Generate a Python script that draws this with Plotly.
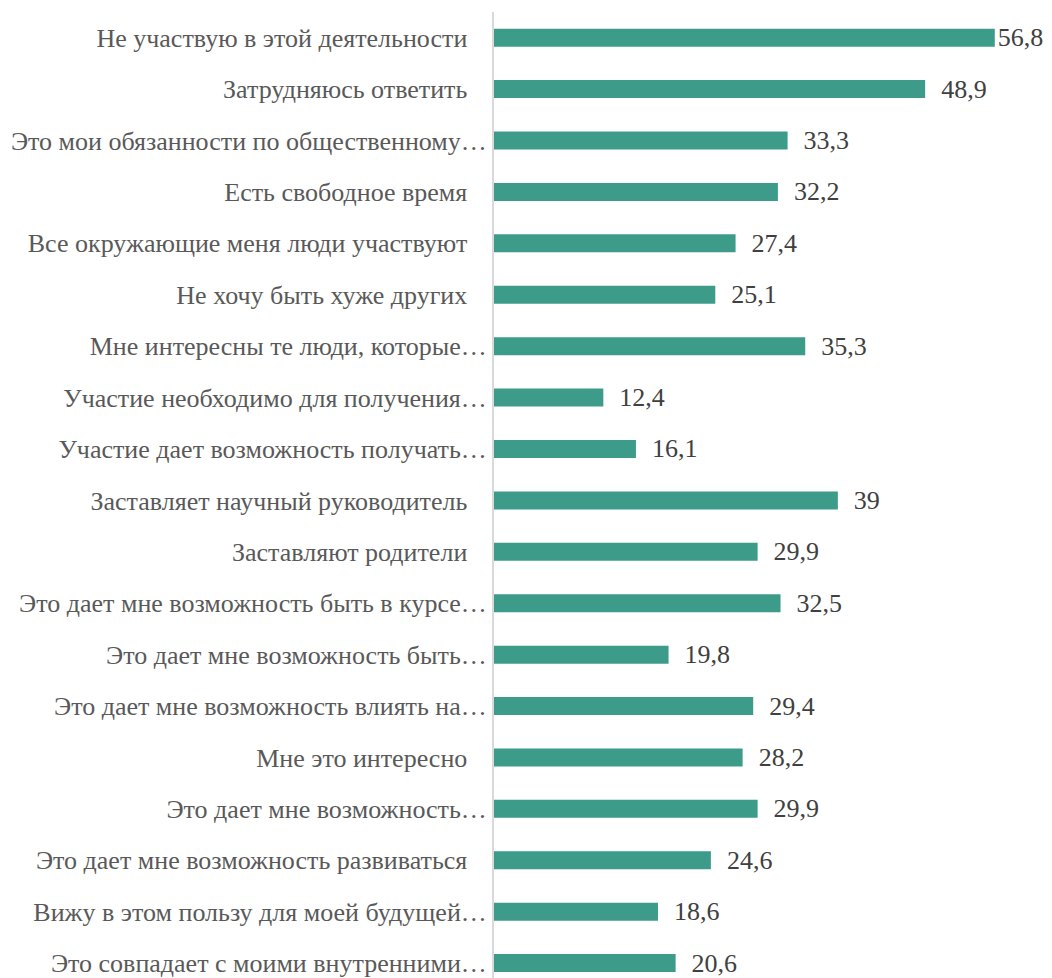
import plotly.graph_objects as go

labels = [
    'Не участвую в этой деятельности',
    'Затрудняюсь ответить',
    'Это мои обязанности по общественному…',
    'Есть свободное время',
    'Все окружающие меня люди участвуют',
    'Не хочу быть хуже других',
    'Мне интересны те люди, которые…',
    'Участие необходимо для получения…',
    'Участие дает возможность получать…',
    'Заставляет научный руководитель',
    'Заставляют родители',
    'Это дает мне возможность быть в курсе…',
    'Это дает мне возможность быть…',
    'Это дает мне возможность влиять на…',
    'Мне это интересно',
    'Это дает мне возможность…',
    'Это дает мне возможность развиваться',
    'Вижу в этом пользу для моей будущей…',
    'Это совпадает с моими внутренними…',
]
values = [56.8, 48.9, 33.3, 32.2, 27.4, 25.1, 35.3, 12.4, 16.1, 39,
          29.9, 32.5, 19.8, 29.4, 28.2, 29.9, 24.6, 18.6, 20.6]

NB = '\u00a0'
SERIF = 'Liberation Serif'
# full labels carry a trailing space in the source, truncated ones run up to the axis
tick_text = [s if s.endswith('…') else s + NB * 3 for s in labels]
val_text = [('' if v == max(values) else NB * 2) + f'{v:g}'.replace('.', ',')
            for v in values]

fig = go.Figure(go.Bar(
    x=values, y=labels, orientation='h',
    marker=dict(color='#3d9c89', line=dict(width=0)),
    text=val_text, textposition='outside', cliponaxis=False, constraintext='none',
    textfont=dict(family=SERIF, size=26, color='#404040'),
))

# page body has an 8px margin, so the figure is drawn 8px in from the window edge
fig.update_layout(
    width=1036, height=970,
    margin=dict(l=486, r=21, t=4, b=0),
    paper_bgcolor='white', plot_bgcolor='white',
    bargap=0.65, showlegend=False,
    font=dict(family=SERIF, size=26, color='#595959'),
)
fig.update_xaxes(range=[0, 60], showticklabels=False, showgrid=False, zeroline=False)
fig.update_yaxes(categoryorder='array', categoryarray=labels,
                 tickvals=labels, ticktext=tick_text,
                 range=[18.29, -0.5], showline=True, linecolor='#d9d9d9', linewidth=2,
                 showgrid=False, ticks='', ticklabelstandoff=0, automargin=False,
                 tickfont=dict(family=SERIF, size=26, color='#595959'))

fig.write_html('out.html')
